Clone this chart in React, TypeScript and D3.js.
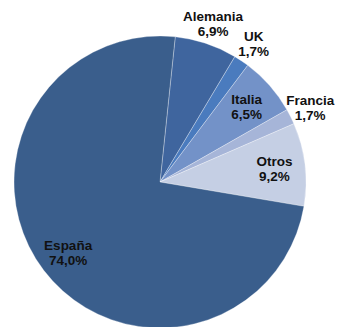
import { useRef, useEffect } from "react";
import * as d3 from "d3";

const countries = ["Alemania", "UK", "Italia", "Francia", "Otros", "España"];
const shares = [6.9, 1.7, 6.5, 1.7, 9.2, 74.0];
const colors = ["#3F659E", "#4A7BBE", "#7392C8", "#A6B5D8", "#C5CFE4", "#3A5E8C"];
const outside = [true, true, false, true, false, false];

type Slice = { name: string; value: number; color: string; out: boolean };

export default function App() {
    const svgRef = useRef<SVGSVGElement>(null);

    useEffect(() => {
        if (!svgRef.current) return;
        const svg = d3.select(svgRef.current);
        svg.selectAll("*").remove();

        const width = 341;
        const height = 327;
        const cx = 160;
        const cy = 182;
        const radius = 146;

        const data: Slice[] = countries.map((name, i) => ({
            name,
            value: shares[i],
            color: colors[i],
            out: outside[i],
        }));

        // excel starts the first slice a little past 12 o'clock
        const offset = (6 * Math.PI) / 180;
        const pie = d3
            .pie<Slice>()
            .sort(null)
            .value((d) => d.value)
            .startAngle(offset)
            .endAngle(offset + 2 * Math.PI);

        const arc = d3.arc<d3.PieArcDatum<Slice>>().innerRadius(0).outerRadius(radius);
        const inLabel = d3
            .arc<d3.PieArcDatum<Slice>>()
            .innerRadius(radius * 0.79)
            .outerRadius(radius * 0.79);
        const outLabel = d3
            .arc<d3.PieArcDatum<Slice>>()
            .innerRadius(radius * 1.15)
            .outerRadius(radius * 1.15);

        const g = svg.append("g").attr("transform", `translate(${cx},${cy})`);

        g.selectAll("path")
            .data(pie(data))
            .enter()
            .append("path")
            .attr("d", arc)
            .attr("fill", (d) => d.data.color)
            .attr("stroke", "#ffffff")
            .attr("stroke-opacity", 0.5)
            .attr("stroke-width", 0.6);

        const labels = g
            .selectAll(".label")
            .data(pie(data))
            .enter()
            .append("text")
            .attr("class", "label")
            .attr("transform", (d) => {
                const [x, y] = d.data.out ? outLabel.centroid(d) : inLabel.centroid(d);
                return `translate(${x},${y})`;
            })
            .attr("text-anchor", "middle")
            .attr("font-family", "'Liberation Sans', Arial, sans-serif")
            .attr("font-weight", "bold")
            .attr("font-size", 13.5)
            .attr("fill", "#111111");

        labels
            .append("tspan")
            .attr("x", 0)
            .attr("y", -2)
            .text((d) => d.data.name);
        labels
            .append("tspan")
            .attr("x", 0)
            .attr("y", 13)
            .text((d) => d.data.value.toFixed(1).replace(".", ",") + "%");

        svg.attr("width", width).attr("height", height);
    }, []);

    return (
        <svg
            ref={svgRef}
            style={{ position: "absolute", left: 0, top: 0, display: "block" }}
        />
    );
}
